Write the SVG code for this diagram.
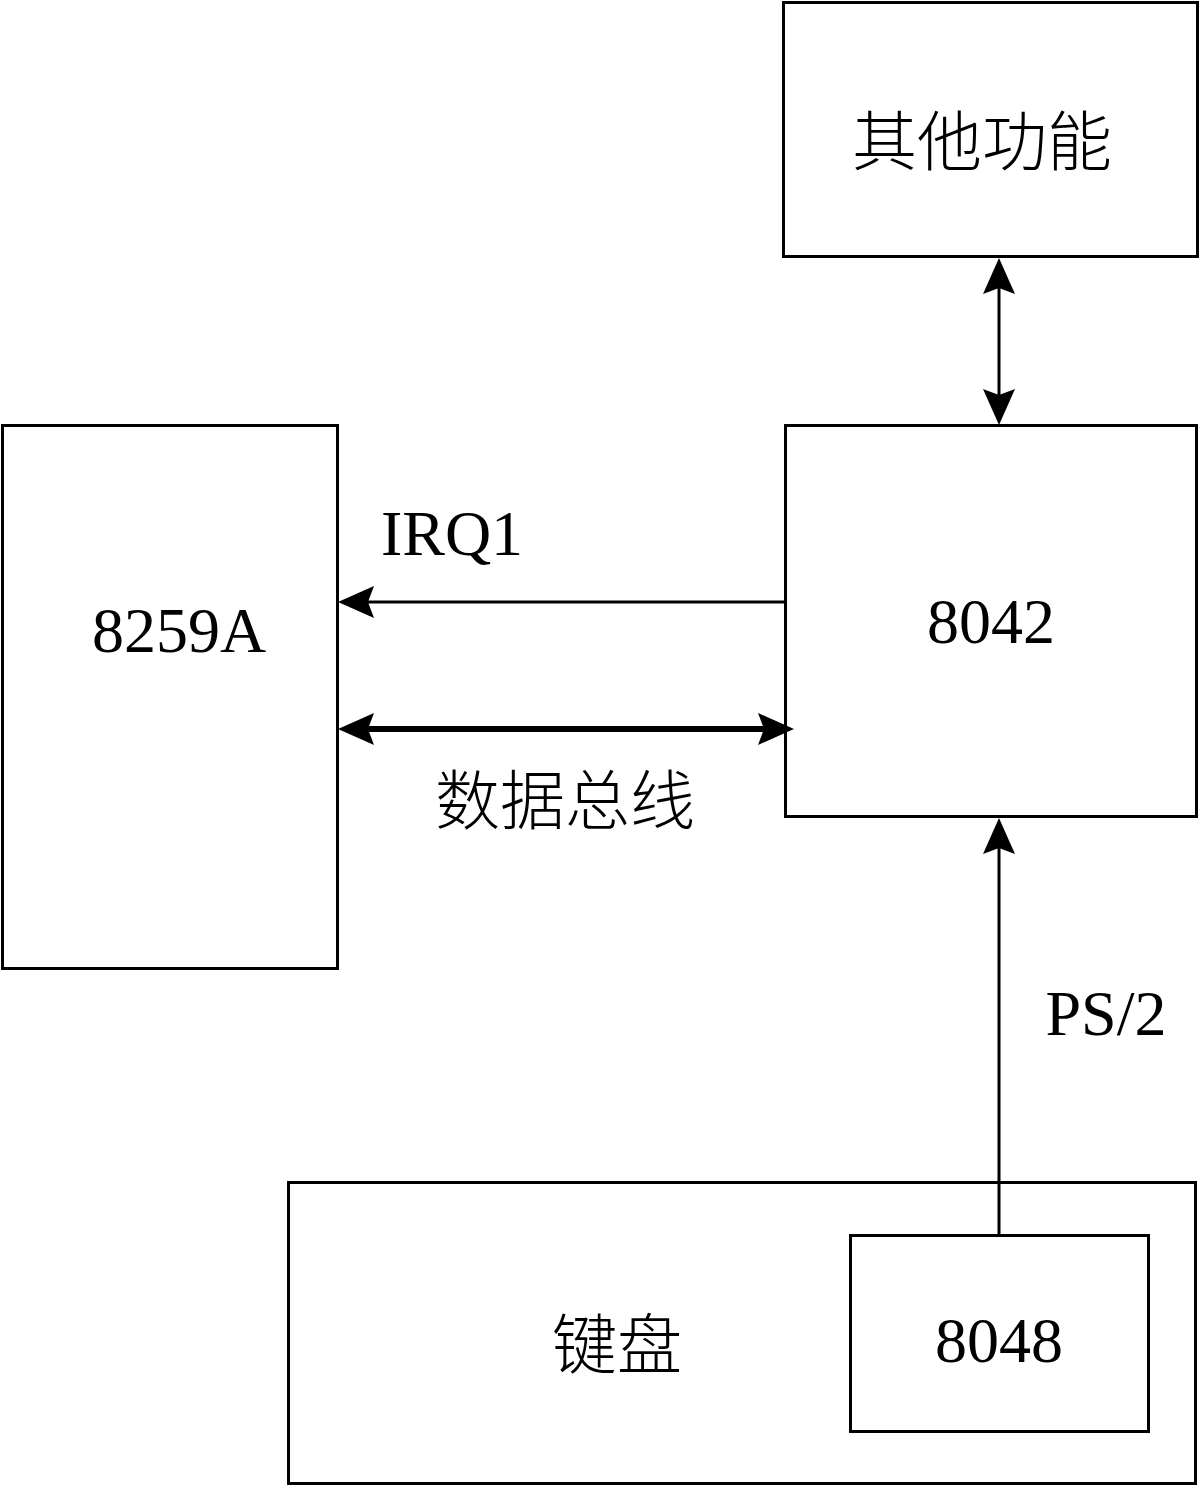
<svg xmlns="http://www.w3.org/2000/svg" width="1200" height="1487" viewBox="0 0 1200 1487">
<style>
.box{fill:#fff;stroke:#000;stroke-width:3}
.t{font-family:"Liberation Serif","Noto Sans CJK SC",serif;font-size:64px;fill:#000;text-anchor:middle}
.c{font-family:"Noto Sans CJK SC","Liberation Serif",sans-serif;font-size:65px;fill:#000;text-anchor:middle;font-weight:300}
.ln{stroke:#000;fill:none}
</style>
<defs>
<marker id="ah" markerUnits="userSpaceOnUse" viewBox="-16 -16 36 32" markerWidth="36" markerHeight="32" refX="0" refY="0" orient="auto-start-reverse">
<path d="M20,0 L-16,-16 L-10,0 L-16,16 Z" fill="#000"/>
</marker>
</defs>
<rect width="1200" height="1487" fill="#fff"/>
<g id="other">
<rect class="box" x="783.5" y="2.5" width="414" height="254"/>
<text class="c" x="982" y="165">其他功能</text>
</g>
<g id="n8259A">
<rect class="box" x="2.5" y="425.5" width="335" height="543"/>
<text class="t" x="179" y="652">8259A</text>
</g>
<g id="n8042">
<rect class="box" x="785.5" y="425.5" width="411" height="391"/>
<text class="t" x="991" y="643">8042</text>
</g>
<g id="keyboard">
<rect class="box" x="288.5" y="1182.5" width="907" height="301"/>
<text class="c" x="617" y="1368">键盘</text>
</g>
<g id="n8048">
<rect class="box" x="850.5" y="1235.5" width="298" height="196"/>
<text class="t" x="999" y="1362">8048</text>
</g>
<g id="connectors">
<line class="ln" x1="999" y1="278" x2="999" y2="405" stroke-width="3" marker-start="url(#ah)" marker-end="url(#ah)"/>
<line class="ln" x1="785" y1="602" x2="358" y2="602" stroke-width="3" marker-end="url(#ah)"/>
<line class="ln" x1="358" y1="729" x2="774" y2="729" stroke-width="6" marker-start="url(#ah)" marker-end="url(#ah)"/>
<line class="ln" x1="999" y1="1235" x2="999" y2="838" stroke-width="3" marker-end="url(#ah)"/>
</g>
<g id="labels">
<text class="t" x="452" y="555">IRQ1</text>
<text class="c" x="565" y="824">数据总线</text>
<text class="t" x="1106" y="1035">PS/2</text>
</g>
</svg>
